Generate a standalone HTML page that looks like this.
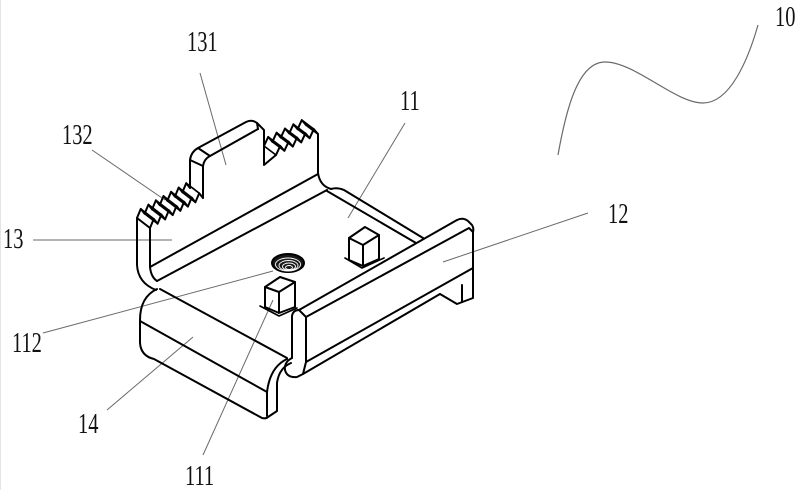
<!DOCTYPE html>
<html>
<head>
<meta charset="utf-8">
<style>
  html,body{margin:0;padding:0;background:#fff;}
  svg{display:block;}
  .lbl{font-family:"Liberation Serif",serif;font-size:28px;fill:#111;}
</style>
</head>
<body>
<svg width="800" height="490" viewBox="0 0 800 490" xmlns="http://www.w3.org/2000/svg">
  <rect x="0" y="0" width="800" height="490" fill="#fff"/>
  <line x1="0.5" y1="0" x2="0.5" y2="490" stroke="#e4e4e4" stroke-width="1"/>

  <!-- leader lines -->
  <g stroke="#6a6a6a" stroke-width="1" fill="none">
    <line x1="200" y1="73" x2="226" y2="165"/>
    <line x1="92" y1="150" x2="165" y2="200"/>
    <line x1="33" y1="240" x2="172" y2="240"/>
    <line x1="405" y1="123" x2="348" y2="218"/>
    <line x1="588" y1="213" x2="443" y2="262"/>
    <line x1="43" y1="333" x2="273" y2="271"/>
    <line x1="107" y1="410" x2="193" y2="337"/>
    <line x1="203" y1="455" x2="273" y2="300"/>
    <path d="M558,155 C566,110 578,62 605,62 C635,62 675,103 703,103 C730,103 748,60 758,25" stroke-width="1.2"/>
  </g>

  <g stroke="#000" stroke-width="2" fill="none" stroke-linejoin="round" stroke-linecap="round">
    <!-- wall 13 -->
    <path d="M137,218 L137,265 Q138,283 156,290"/>
    <path d="M137,218 L150,228"/>
    <path d="M150,228 L150,267 Q151,277 157,281"/>
    <path d="M150,267 L318,174"/>
    <path d="M157,281 L327,190"/>
    <path d="M306,125 L318,134 L318,173 Q320,186 331,189 Q337,187 344,190 L423,238"/>
    <path d="M327,191 L416,243"/>

    <!-- left teeth 132 -->
    <path d="M137,218 L140.8,208.9 L144.6,213.7 L148.4,204.6 L152.1,209.4 L155.9,200.3 L159.7,205.1 L163.5,196 L167.3,200.8 L171.1,191.8 L174.9,196.6 L178.7,187.5 L182.4,192.3 L186.2,183.2 L190,188"/>
    <path d="M150,228 L153.8,218.9 L157.6,223.7 L161.4,214.6 L165.1,219.4 L168.9,210.3 L172.7,215.1 L176.5,206 L180.3,210.8 L184.1,201.8 L187.9,206.6 L191.7,197.5 L195.4,202.3 L199.2,193.2 L203,198"/>
    <g stroke-width="1.7">
      <path d="M140.8,208.9 L153.8,218.9 M148.4,204.6 L161.4,214.6 M155.9,200.3 L168.9,210.3 M163.5,196 L176.5,206 M171.1,191.8 L184.1,201.8 M178.7,187.5 L191.7,197.5 M186.2,183.2 L199.2,193.2"/>
      <path d="M144.6,213.7 L157.6,223.7 M152.1,209.4 L165.1,219.4 M159.7,205.1 L172.7,215.1 M167.3,200.8 L180.3,210.8 M174.9,196.6 L187.9,206.6 M182.4,192.3 L195.4,202.3"/>
    </g>

    <!-- tab 131 -->
    <path d="M190,188 L190,160 Q191,152 198,148 L246,122 Q252,119 257,123 L264,130 L264,165 L270,160 L276,155"/>
    <path d="M203,198 L203,166 Q204,159 210,156 L258,129"/>
    <path d="M190,160 L203,166 M198,148 L210,156 M257,123 L258,129"/>

    <!-- right teeth -->
    <path d="M264,146 L268.2,136.9 L272.4,141.8 L276.6,132.7 L280.8,137.6 L285,128.5 L289.2,133.4 L293.4,124.3 L297.6,129.2 L301.8,120.1 L306,125"/>
    <path d="M276,155 L280.2,145.9 L284.4,150.8 L288.6,141.7 L292.8,146.6 L297,137.5 L301.2,142.4 L305.4,133.3 L309.6,138.2 L313.8,129.1 L318,134"/>
    <g stroke-width="1.7">
      <path d="M264,146 L276,155 M268.2,136.9 L280.2,145.9 M276.6,132.7 L288.6,141.7 M285,128.5 L297,137.5 M293.4,124.3 L305.4,133.3 M301.8,120.1 L313.8,129.1"/>
      <path d="M272.4,141.8 L284.4,150.8 M280.8,137.6 L292.8,146.6 M289.2,133.4 L301.2,142.4 M297.6,129.2 L309.6,138.2"/>
    </g>

    <!-- block 14 -->
    <path d="M160,289 L287,358"/>
    <path d="M157,289 Q140,297 140,320 L140,343 Q141,356 154,359 L262,418 Q266,419 268,417 L277,411 L277,383 Q279,368 291,363"/>
    <path d="M140,321 L267,392 L267,416"/>
    <path d="M287,359 Q270,367 267,392"/>

    <!-- rail 12 -->
    <path d="M292,358 L292,316 Q293,310 299,310 L306,317 L306,362"/>
    <path d="M299,310 L457,220 Q463,217 468,221 L472,225 Q474,228 473,232 L473,298 L457,304 L440,294"/>
    <path d="M306,317 L469,228 L473,232"/>
    <path d="M306,362 L473,268"/>
    <path d="M306,362 L303,374 L440,294"/>
    <path d="M292,358 Q284,362 285,370 Q287,378 297,377 L303,374"/>
    <path d="M462,285 L462,302"/>

    <!-- peg 111 -->
    <path d="M265,287 L280,277 L295,282 L279,292 Z"/>
    <path d="M265,287 L265,307 L279,313 L279,292 M295,282 L295,307 L279,313"/>
    <path d="M260,306 L279,316 L297,308" stroke-width="1.6"/>

    <!-- peg 2 -->
    <path d="M349,238 L365,227 L379,235 L363,245 Z"/>
    <path d="M349,238 L349,260 L363,266 L363,245 M379,235 L379,259 L363,266"/>
    <path d="M345,258 L362,268 L384,258" stroke-width="1.6"/>

    <!-- hole 112 -->
    <ellipse cx="288" cy="263" rx="16" ry="9" fill="#1a1a1a"/>
  </g>
  <g stroke="#fff" stroke-width="0.9" fill="none">
    <ellipse cx="288" cy="264.5" rx="12.5" ry="6.5"/>
    <ellipse cx="288.5" cy="265.5" rx="9.5" ry="5"/>
    <ellipse cx="289" cy="266.5" rx="6.5" ry="3.5"/>
    <ellipse cx="289" cy="267.5" rx="3.5" ry="2"/>
  </g>

  <!-- labels -->
  <text class="lbl" transform="translate(187,51) scale(0.73,1)">131</text>
  <text class="lbl" transform="translate(62,144) scale(0.73,1)">132</text>
  <text class="lbl" transform="translate(3,248) scale(0.73,1)">13</text>
  <text class="lbl" transform="translate(400,110) scale(0.73,1)">11</text>
  <text class="lbl" transform="translate(608,223) scale(0.73,1)">12</text>
  <text class="lbl" transform="translate(775,26) scale(0.73,1)">10</text>
  <text class="lbl" transform="translate(12,352) scale(0.73,1)">112</text>
  <text class="lbl" transform="translate(78,433) scale(0.73,1)">14</text>
  <text class="lbl" transform="translate(185,485) scale(0.73,1)">111</text>
</svg>
</body>
</html>
